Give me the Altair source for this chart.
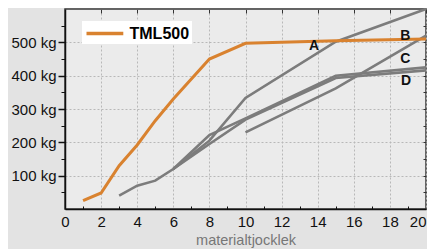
import altair as alt
import pandas as pd

# --- data ---
x_tml = [1, 2, 3, 4, 5, 6, 8, 10, 15, 20]
y_tml = [25, 48, 130, 192, 265, 330, 450, 497, 505, 510]

x_a = [6, 8, 10, 15, 20]
y_a = [120, 205, 333, 502, 600]

x_b = [10, 15, 20]
y_b = [230, 362, 520]

x_c = [3, 4, 5, 6, 8, 10, 15, 20]
y_c = [40, 70, 85, 120, 195, 268, 393, 416]

x_d = [6, 8, 10, 15, 20]
y_d = [120, 222, 272, 400, 425]

labels = ["A", "B", "C", "D"]
label_x = [13.8, 18.85, 18.85, 18.9]
label_y = [490, 518, 449, 383]

x_major = list(range(0, 21, 2))
x_minor = list(range(1, 20, 2))
y_major = [100, 200, 300, 400, 500]
y_minor = [50, 150, 250, 350, 450, 550]
y_right = list(range(50, 600, 50))

rows = []
for name, xs, ys in [("A", x_a, y_a), ("B", x_b, y_b), ("C", x_c, y_c), ("D", x_d, y_d)]:
    for xv, yv in zip(xs, ys):
        rows.append({"line": name, "x": xv, "y": yv})
gray_df = pd.DataFrame(rows)
tml_df = pd.DataFrame({"series": ["TML500"] * len(x_tml), "x": x_tml, "y": y_tml})
lab_df = pd.DataFrame({"label": labels, "x": label_x, "y": label_y})

xsc = alt.Scale(domain=[0, 20], nice=False, zero=False)
ysc = alt.Scale(domain=[0, 600], nice=False)

FONT = "Liberation Sans"

x_main = alt.Axis(orient="bottom", values=x_major, title="materialtjocklek",
                  titleFontSize=14.5, titleColor="#777777", titleFontWeight="normal",
                  titleFont=FONT, titlePadding=4,
                  labelFont=FONT, labelFontSize=15, labelColor="#111111", labelPadding=5,
                  labelFlush=False,
                  labelAlign={"condition": {"test": "datum.value == 20", "value": "right"},
                              "value": "center"},
                  tickSize=0, domainColor="#111111", domainWidth=1.5,
                  grid=True, gridColor="#b8b8b8", gridDash=[2, 2], gridWidth=1)
y_main = alt.Axis(orient="left", values=y_major, labelExpr="datum.value + ' kg'",
                  title=None, labelFont=FONT, labelFontSize=15, labelColor="#111111",
                  labelPadding=2, tickSize=7, tickWidth=1.5, tickColor="#111111",
                  domainColor="#111111", domainWidth=1.5,
                  grid=True, gridColor="#b8b8b8", gridDash=[2, 2], gridWidth=1)

gray = alt.Chart(gray_df).mark_line(color="#7c7c7c", strokeWidth=2.6).encode(
    x=alt.X("x:Q", scale=xsc, axis=x_main),
    y=alt.Y("y:Q", scale=ysc, axis=y_main),
    detail="line:N",
)

orange = alt.Chart(tml_df).mark_line(strokeWidth=3).encode(
    x=alt.X("x:Q", scale=xsc, axis=None),
    y=alt.Y("y:Q", scale=ysc, axis=None),
    color=alt.Color("series:N",
                    scale=alt.Scale(domain=["TML500"], range=["#d9822f"]),
                    legend=alt.Legend(title=None, orient="none", legendX=17, legendY=12,
                                      fillColor="white", padding=2.5,
                                      symbolType="M-1,0H3.6", symbolSize=256,
                                      symbolStrokeWidth=3.5, symbolOffset=0,
                                      labelOffset=25,
                                      labelFont=FONT, labelFontSize=16,
                                      labelFontWeight="bold", labelColor="#000000")),
)

text = alt.Chart(lab_df).mark_text(font=FONT, fontSize=14, fontWeight="bold",
                                   color="#111111").encode(
    x=alt.X("x:Q", scale=xsc, axis=None),
    y=alt.Y("y:Q", scale=ysc, axis=None),
    text="label:N",
)

minor = alt.Chart(gray_df).mark_point(opacity=0).encode(
    x=alt.X("x:Q", scale=xsc, axis=alt.Axis(orient="bottom", values=x_minor, labels=False,
                                            domain=False, grid=False, tickSize=3, offset=-3,
                                            tickColor="#111111", title=None)),
    y=alt.Y("y:Q", scale=ysc, axis=alt.Axis(orient="left", values=y_minor, labels=False,
                                            domain=False, grid=False, tickSize=4,
                                            tickColor="#111111", title=None)),
)

mirror = alt.Chart(gray_df).mark_point(opacity=0).encode(
    x=alt.X("x:Q", scale=xsc, axis=alt.Axis(orient="top", values=x_major, labels=False,
                                            domain=False, grid=False, tickSize=4, offset=-4,
                                            tickColor="#333333", title=None)),
    y=alt.Y("y:Q", scale=ysc, axis=alt.Axis(orient="right", values=y_right, labels=False,
                                            domain=False, grid=False, tickSize=3, offset=-3,
                                            tickColor="#333333", title=None)),
)

chart = alt.layer(gray, orange, text, minor, mirror).resolve_axis(
    x="independent", y="independent"
).properties(
    width=361, height=200,
    autosize=alt.AutoSizeParams(type="none"),
    padding={"left": 57, "top": 1, "right": 1, "bottom": 40},
    background="#e3e3e3",
).configure_view(
    fill="#ebebeb", stroke="#3a3a3a", strokeWidth=1.5
)

chart.save("out.html", embed_options={"renderer": "svg", "actions": False})
